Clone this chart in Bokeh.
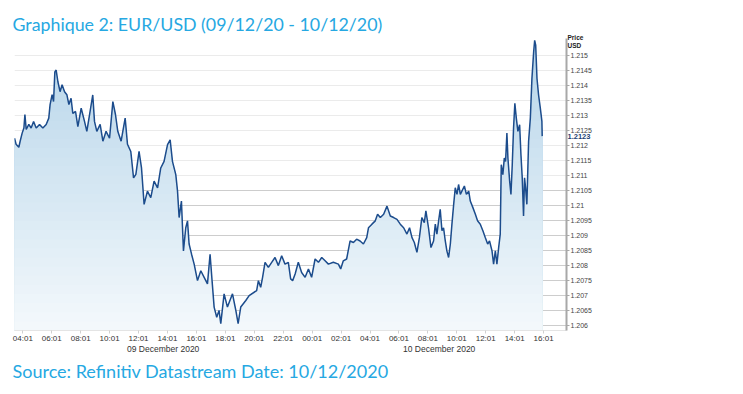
import numpy as np
from bokeh.plotting import figure
from bokeh.models import (Range1d, LinearAxis, FixedTicker, Grid, Title,
                          CustomJSTickFormatter)
from bokeh.embed import file_html
from bokeh.resources import INLINE

# ---- data (hours since 09 Dec 2020 00:00, EUR/USD price) ----
hours = [3.44, 3.55, 3.74, 3.83, 3.97, 4.09, 4.16, 4.25, 4.43, 4.59, 4.76, 4.94, 5.17, 5.40, 5.63,
         5.81, 5.90, 6.04, 6.14, 6.23, 6.32, 6.44, 6.59, 6.73, 6.90, 7.06, 7.20, 7.35, 7.47, 7.66,
         7.82, 8.05, 8.28, 8.44, 8.63, 8.85, 8.97, 9.13, 9.36, 9.55, 9.77, 10.01, 10.24, 10.42,
         10.58, 10.81, 11.09, 11.25, 11.48, 11.67, 11.83, 12.05, 12.22, 12.40, 12.63, 12.86, 13.09,
         13.33, 13.55, 13.78, 14.02, 14.20, 14.36, 14.59, 14.71, 14.82, 14.98, 15.12, 15.28, 15.40,
         15.51, 15.68, 15.86, 16.09, 16.32, 16.55, 16.78, 16.96, 17.08, 17.24, 17.42, 17.58, 17.70,
         17.93, 18.16, 18.51, 18.74, 18.90, 19.08, 19.43, 19.66, 20.18, 20.30, 20.46, 20.59, 20.76,
         20.99, 21.22, 21.45, 21.68, 21.91, 22.14, 22.37, 22.53, 22.67, 22.84, 23.06, 23.29, 23.53,
         23.76, 23.98, 24.22, 24.45, 24.68, 24.91, 25.14, 25.48, 25.83, 25.99, 26.17, 26.40, 26.64,
         26.87, 27.09, 27.33, 27.56, 27.79, 27.91, 28.15, 28.38, 28.54, 28.73, 28.96, 29.19, 29.42,
         29.65, 29.88, 30.11, 30.34, 30.57, 30.75, 30.92, 31.08, 31.26, 31.43, 31.60, 31.77, 31.88,
         32.06, 32.23, 32.41, 32.53, 32.64, 32.76, 32.87, 32.99, 33.10, 33.22, 33.33, 33.45, 33.57,
         33.68, 33.80, 33.91, 34.03, 34.14, 34.26, 34.37, 34.54, 34.68, 34.84, 34.95, 35.13, 35.30,
         35.45, 35.64, 35.82, 35.99, 36.15, 36.28, 36.45, 36.56, 36.68, 36.79, 36.91, 37.02, 37.09,
         37.20, 37.30, 37.39, 37.48, 37.55, 37.67, 37.76, 37.85, 37.94, 38.03, 38.13, 38.24, 38.36,
         38.45, 38.54, 38.63, 38.70, 38.77, 38.86, 38.98, 39.10, 39.21, 39.33, 39.40, 39.47, 39.56,
         39.67, 39.79, 39.90, 39.92]
price = [1.21223, 1.21203, 1.21193, 1.21213, 1.21240, 1.21257, 1.21302, 1.21252, 1.21269, 1.21257,
         1.21279, 1.21257, 1.21269, 1.21257, 1.21269, 1.21290, 1.21335, 1.21368, 1.21345, 1.21444,
         1.21450, 1.21411, 1.21378, 1.21401, 1.21378, 1.21368, 1.21335, 1.21356, 1.21306, 1.21312,
         1.21262, 1.21323, 1.21279, 1.21246, 1.21302, 1.21367, 1.21279, 1.21246, 1.21269, 1.21213,
         1.21246, 1.21223, 1.21345, 1.21302, 1.21246, 1.21213, 1.21290, 1.21203, 1.21179, 1.21091,
         1.21103, 1.21179, 1.21124, 1.21003, 1.21047, 1.21025, 1.21080, 1.21058, 1.21124, 1.21146,
         1.21202, 1.21218, 1.21146, 1.21102, 1.21047, 1.20959, 1.21014, 1.20848, 1.20925, 1.20948,
         1.20871, 1.20837, 1.20804, 1.20749, 1.20782, 1.20760, 1.20738, 1.20837, 1.20760, 1.20661,
         1.20627, 1.20650, 1.20606, 1.20705, 1.20661, 1.20705, 1.20650, 1.20606, 1.20661, 1.20683,
         1.20699, 1.20716, 1.20749, 1.20727, 1.20760, 1.20810, 1.20793, 1.20810, 1.20826, 1.20799,
         1.20832, 1.20804, 1.20810, 1.20755, 1.20749, 1.20771, 1.20810, 1.20776, 1.20760, 1.20788,
         1.20760, 1.20821, 1.20810, 1.20826, 1.20815, 1.20804, 1.20810, 1.20804, 1.20788, 1.20815,
         1.20821, 1.20881, 1.20876, 1.20887, 1.20881, 1.20871, 1.20892, 1.20925, 1.20937, 1.20948,
         1.20970, 1.20959, 1.20970, 1.20997, 1.20964, 1.20959, 1.20953, 1.20937, 1.20925, 1.20904,
         1.20925, 1.20892, 1.20876, 1.20843, 1.20892, 1.20959, 1.20942, 1.20981, 1.20925, 1.20859,
         1.20881, 1.20937, 1.20904, 1.20948, 1.20986, 1.20915, 1.20925, 1.20881, 1.20848, 1.20826,
         1.20871, 1.20937, 1.21003, 1.21058, 1.21036, 1.21069, 1.21036, 1.21047, 1.21064, 1.21036,
         1.21047, 1.21014, 1.20992, 1.20970, 1.20948, 1.20937, 1.20915, 1.20892, 1.20871, 1.20881,
         1.20848, 1.20804, 1.20848, 1.20804, 1.20859, 1.20904, 1.21135, 1.21102, 1.21157, 1.21146,
         1.21240, 1.21157, 1.21080, 1.21036, 1.21135, 1.21257, 1.21339, 1.21290, 1.21246, 1.21268,
         1.21169, 1.21091, 1.20964, 1.21091, 1.21058, 1.21003, 1.21213, 1.21290, 1.21422, 1.21511,
         1.21549, 1.21533, 1.21422, 1.21367, 1.21323, 1.21279, 1.21230]

time_ticks = [4 + 1 / 60 + 2 * i for i in range(19)]          # 04:01 ... 16:01 (next day)
day_labels = ["09 December 2020", "10 December 2020"]
price_ticks = [1.206, 1.2065, 1.207, 1.2075, 1.208, 1.2085, 1.209, 1.2095, 1.21, 1.2105,
               1.211, 1.2115, 1.212, 1.2125, 1.213, 1.2135, 1.214, 1.2145, 1.215]
last_price = 1.2123
axis_header = "Price\nUSD"

title_text = "Graphique 2: EUR/USD (09/12/20 - 10/12/20)"
source_text = "Source: Refinitiv Datastream Date: 10/12/2020"

# ---- figure ----
x0, x1 = 3.44, 41.6
y0, y1 = 1.20583, 1.21555

p = figure(width=743, height=394, output_backend="svg", toolbar_location=None,
           x_range=Range1d(x0, x1), y_range=Range1d(y0, y1),
           y_axis_location="right", min_border_left=14, min_border_right=177,
           min_border_top=38, min_border_bottom=64)
p.outline_line_color = None
p.background_fill_color = "white"
p.border_fill_color = "white"
p.xgrid.visible = False
p.ygrid.visible = False

light_ticks = [t for t in price_ticks if t > 1.2106]
dark_ticks = [t for t in price_ticks if t < 1.2106]
p.add_layout(Grid(dimension=1, ticker=FixedTicker(ticks=light_ticks),
                  grid_line_color="#ebebeb", grid_line_width=1))
p.add_layout(Grid(dimension=1, ticker=FixedTicker(ticks=dark_ticks),
                  grid_line_color="#cdcdcd", grid_line_width=1))

# gradient area fill (bands drawn from top to bottom)
hx = np.array(hours)
py = np.array(price)
N = 32
levels = np.linspace(y0, y1, N + 1)
c_bot = np.array([0xf4, 0xf9, 0xfc])
c_top = np.array([0xb6, 0xd5, 0xea])
for k in range(N - 1, -1, -1):
    f = (k + 0.5) / N
    c = (c_bot + (c_top - c_bot) * f).astype(int)
    col = "#%02x%02x%02x" % tuple(c)
    p.varea(x=hx, y1=np.full_like(py, y0), y2=np.minimum(py, levels[k + 1]),
            fill_color=col, fill_alpha=1.0)

p.line(hx, py, line_color="#1c4c8c", line_width=1.5)

# main right price axis
ya = p.yaxis[0]
ya.ticker = FixedTicker(ticks=price_ticks)
ya.formatter = CustomJSTickFormatter(code="return tick.toFixed(4).replace(/0+$/, '');")
ya.axis_line_color = "#a8a8a8"
ya.axis_line_width = 2
ya.major_tick_line_color = "#a8a8a8"
ya.major_tick_out = 3
ya.major_tick_in = 0
ya.minor_tick_line_color = None
ya.major_label_standoff = 1
ya.major_label_text_font = "Liberation Sans"
ya.major_label_text_font_size = "7px"
ya.major_label_text_color = "#444444"

# last-price tag (extra right axis, pulled back over the label column)
tag_axis = LinearAxis(ticker=FixedTicker(ticks=[last_price]),
                      formatter=CustomJSTickFormatter(code="return tick.toFixed(4);"))
tag_axis.axis_line_color = None
tag_axis.major_tick_line_color = None
tag_axis.minor_tick_line_color = None
tag_axis.major_label_standoff = -33
tag_axis.major_label_text_font = "Liberation Sans"
tag_axis.major_label_text_font_size = "7.5px"
tag_axis.major_label_text_font_style = "bold"
tag_axis.major_label_text_color = "#1f3f73"
p.add_layout(tag_axis, "right")

# "Price / USD" header (extra right axis at the top of the range)
head_axis = LinearAxis(ticker=FixedTicker(ticks=[y1 - 0.0001]),
                       formatter=CustomJSTickFormatter(args=dict(h=axis_header),
                                                       code="return h;"))
head_axis.axis_line_color = None
head_axis.major_tick_line_color = None
head_axis.minor_tick_line_color = None
head_axis.major_label_standoff = -33
head_axis.major_label_text_font = "Liberation Sans"
head_axis.major_label_text_font_size = "6.5px"
head_axis.major_label_text_font_style = "bold"
head_axis.major_label_text_color = "#222222"
p.add_layout(head_axis, "right")

# bottom time axis
xa = p.xaxis[0]
xa.ticker = FixedTicker(ticks=time_ticks)
xa.formatter = CustomJSTickFormatter(code="""
    const m = Math.round(tick * 60);
    const h = Math.floor(m / 60) % 24;
    const mm = m % 60;
    return String(h).padStart(2, '0') + ':' + String(mm).padStart(2, '0');
""")
xa.axis_line_color = "#e4e4e4"
xa.major_tick_line_color = "#d0d0d0"
xa.major_tick_out = 3
xa.major_tick_in = 0
xa.minor_tick_line_color = None
xa.major_label_standoff = 0
xa.major_label_text_font = "Liberation Sans"
xa.major_label_text_font_size = "8px"
xa.major_label_text_color = "#333333"

# day labels axis
day_axis = LinearAxis(ticker=FixedTicker(ticks=[(x0 + 24) / 2, (24 + x1) / 2]),
                      formatter=CustomJSTickFormatter(args=dict(labels=day_labels),
                                                      code="return tick < 24 ? labels[0] : labels[1];"))
day_axis.axis_line_color = None
day_axis.major_tick_line_color = None
day_axis.minor_tick_line_color = None
day_axis.major_label_standoff = -8
day_axis.major_label_text_font = "Liberation Sans"
day_axis.major_label_text_font_size = "8.5px"
day_axis.major_label_text_color = "#333333"
p.add_layout(day_axis, "below")

# titles
p.title = Title(text=title_text, align="left", offset=-2, standoff=8, text_font="Lato",
                text_font_style="normal", text_font_size="17.8px", text_color="#26a8e2")
p.add_layout(Title(text=source_text, align="left", offset=-2, standoff=3, text_font="Lato",
                   text_font_style="normal", text_font_size="18px", text_color="#26a8e2"),
             "below")

open("out.html", "w").write(file_html(p, INLINE))
